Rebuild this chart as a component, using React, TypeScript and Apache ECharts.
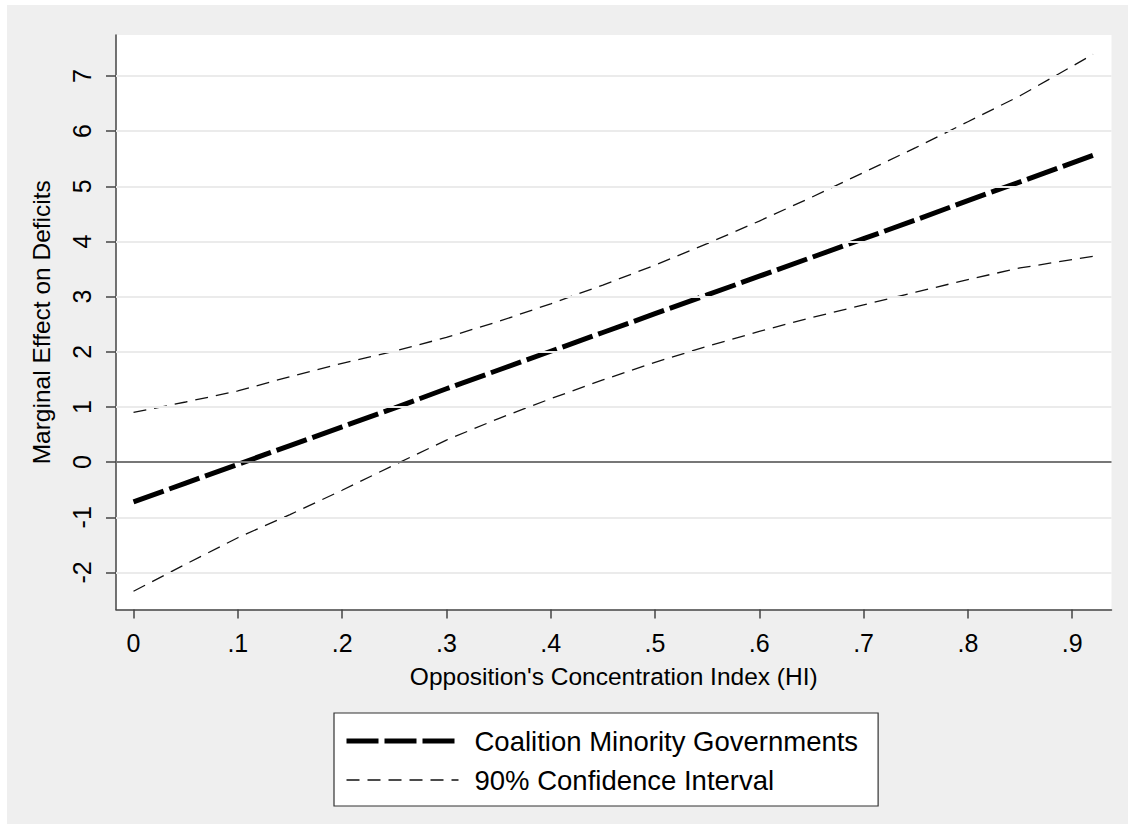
import React, { useEffect, useRef } from "react";
import * as echarts from "echarts";

const FONT = "'Liberation Sans', Arial, Helvetica, sans-serif";

// Opposition's Concentration Index (HI)
const hiValues = [0, 0.05, 0.1, 0.15, 0.2, 0.25, 0.3, 0.35, 0.4, 0.45, 0.5, 0.55, 0.6, 0.65, 0.7, 0.75, 0.8, 0.85, 0.92];
// Marginal effect (coalition minority governments)
const effectValues = [-0.72, -0.38, -0.04, 0.30, 0.64, 0.98, 1.33, 1.67, 2.01, 2.35, 2.69, 3.03, 3.37, 3.71, 4.05, 4.39, 4.74, 5.08, 5.56];
// 90% confidence interval bounds
const upperValues = [0.90, 1.09, 1.29, 1.55, 1.79, 2.01, 2.26, 2.55, 2.87, 3.21, 3.57, 3.96, 4.37, 4.80, 5.25, 5.70, 6.17, 6.64, 7.39];
const lowerValues = [-2.34, -1.85, -1.37, -0.95, -0.51, -0.05, 0.40, 0.79, 1.15, 1.49, 1.81, 2.10, 2.37, 2.62, 2.85, 3.08, 3.31, 3.52, 3.73];

const yTicks = [-2, -1, 0, 1, 2, 3, 4, 5, 6, 7];
const xTicks = [0, 0.1, 0.2, 0.3, 0.4, 0.5, 0.6, 0.7, 0.8, 0.9];

const MAIN_NAME = "Coalition Minority Governments";
const CI_NAME = "90% Confidence Interval";
const X_TITLE = "Opposition's Concentration Index (HI)";
const Y_TITLE = "Marginal Effect on Deficits";

const MAIN_DASH = [32, 6];
const CI_DASH = [13, 8];

export default function App() {
  const ref = useRef<HTMLDivElement>(null);

  useEffect(() => {
    if (!ref.current) return;
    const chart = echarts.init(ref.current, null, { renderer: "svg" });

    const pairs = (ys: number[]) => hiValues.map((x, i) => [x, ys[i]]);
    const axisColor = "#444";

    const option: any = {
      animation: false,
      backgroundColor: "#ffffff",
      graphic: [
        {
          type: "rect",
          z: -100,
          silent: true,
          shape: { x: 7, y: 5, width: 1121, height: 819 },
          style: { fill: "#efefef" },
        },
      ],
      grid: {
        left: 116,
        top: 35,
        right: 19.5,
        bottom: 215.5,
        show: true,
        backgroundColor: "#ffffff",
        borderWidth: 0,
        containLabel: false,
        outerBoundsMode: "none",
      },
      xAxis: {
        type: "value",
        min: -0.0168,
        max: 0.9377,
        axisLine: { show: true, onZero: false, lineStyle: { color: axisColor, width: 1.5 } },
        axisTick: { show: true, length: 9, customValues: xTicks, lineStyle: { color: axisColor, width: 1.5 } },
        axisLabel: {
          show: true,
          customValues: xTicks,
          margin: 21,
          fontSize: 25,
          fontFamily: FONT,
          color: "#000",
          formatter: (v: number) => {
            const n = Math.round(v * 10);
            return n === 0 ? "0" : "." + n;
          },
        },
        splitLine: { show: false },
        name: X_TITLE,
        nameLocation: "middle",
        nameGap: 54,
        nameTextStyle: { fontSize: 24.5, fontFamily: FONT, color: "#000" },
      },
      yAxis: {
        type: "value",
        min: -2.671,
        max: 7.742,
        axisLine: { show: true, onZero: false, lineStyle: { color: axisColor, width: 1.5 } },
        axisTick: { show: true, length: 10, customValues: yTicks, lineStyle: { color: axisColor, width: 1.5 } },
        axisLabel: {
          show: true,
          customValues: yTicks,
          rotate: 90,
          margin: 22,
          fontSize: 25,
          fontFamily: FONT,
          color: "#000",
          formatter: (v: number) => String(Math.round(v)),
        },
        splitLine: { show: false },
        name: Y_TITLE,
        nameLocation: "middle",
        nameGap: 62,
        nameTextStyle: { fontSize: 24.5, fontFamily: FONT, color: "#000" },
      },
      legend: {
        data: [
          {
            name: MAIN_NAME,
            lineStyle: { width: 5, type: MAIN_DASH, color: "#000" },
            itemStyle: { opacity: 0 },
          },
          {
            name: CI_NAME,
            lineStyle: { width: 1.3, type: CI_DASH, color: "#111" },
            itemStyle: { opacity: 0 },
          },
        ],
        orient: "vertical",
        left: 334,
        top: 713,
        padding: [14, 20, 12, 10],
        itemGap: 11,
        itemWidth: 112,
        itemHeight: 20,
        backgroundColor: "#ffffff",
        borderColor: "#333",
        borderWidth: 1.2,
        borderRadius: 0,
        selectedMode: false,
        textStyle: { fontSize: 27.5, fontFamily: FONT, color: "#000", lineHeight: 28, padding: [0, 0, 0, 11] },
      },
      series: [
        {
          name: "gridlines",
          type: "line",
          data: [],
          z: 1,
          silent: true,
          markLine: {
            silent: true,
            symbol: ["none", "none"],
            label: { show: false },
            animation: false,
            data: yTicks.map((v) =>
              v === 0
                ? { yAxis: v, lineStyle: { color: "#777", width: 2, type: "solid" } }
                : { yAxis: v, lineStyle: { color: "#ebebeb", width: 2, type: "solid" } }
            ),
          },
        },
        {
          name: CI_NAME,
          type: "line",
          data: pairs(upperValues),
          symbol: "none",
          z: 3,
          lineStyle: { color: "#111", width: 1.3, type: CI_DASH },
        },
        {
          name: CI_NAME,
          type: "line",
          data: pairs(lowerValues),
          symbol: "none",
          z: 3,
          lineStyle: { color: "#111", width: 1.3, type: CI_DASH },
        },
        {
          name: MAIN_NAME,
          type: "line",
          data: pairs(effectValues),
          symbol: "none",
          z: 4,
          lineStyle: { color: "#000", width: 5, type: MAIN_DASH },
        },
      ],
    };

    chart.setOption(option);
    return () => chart.dispose();
  }, []);

  return (
    <div
      ref={ref}
      style={{ position: "fixed", left: 0, top: 0, width: 1131, height: 825 }}
    />
  );
}
